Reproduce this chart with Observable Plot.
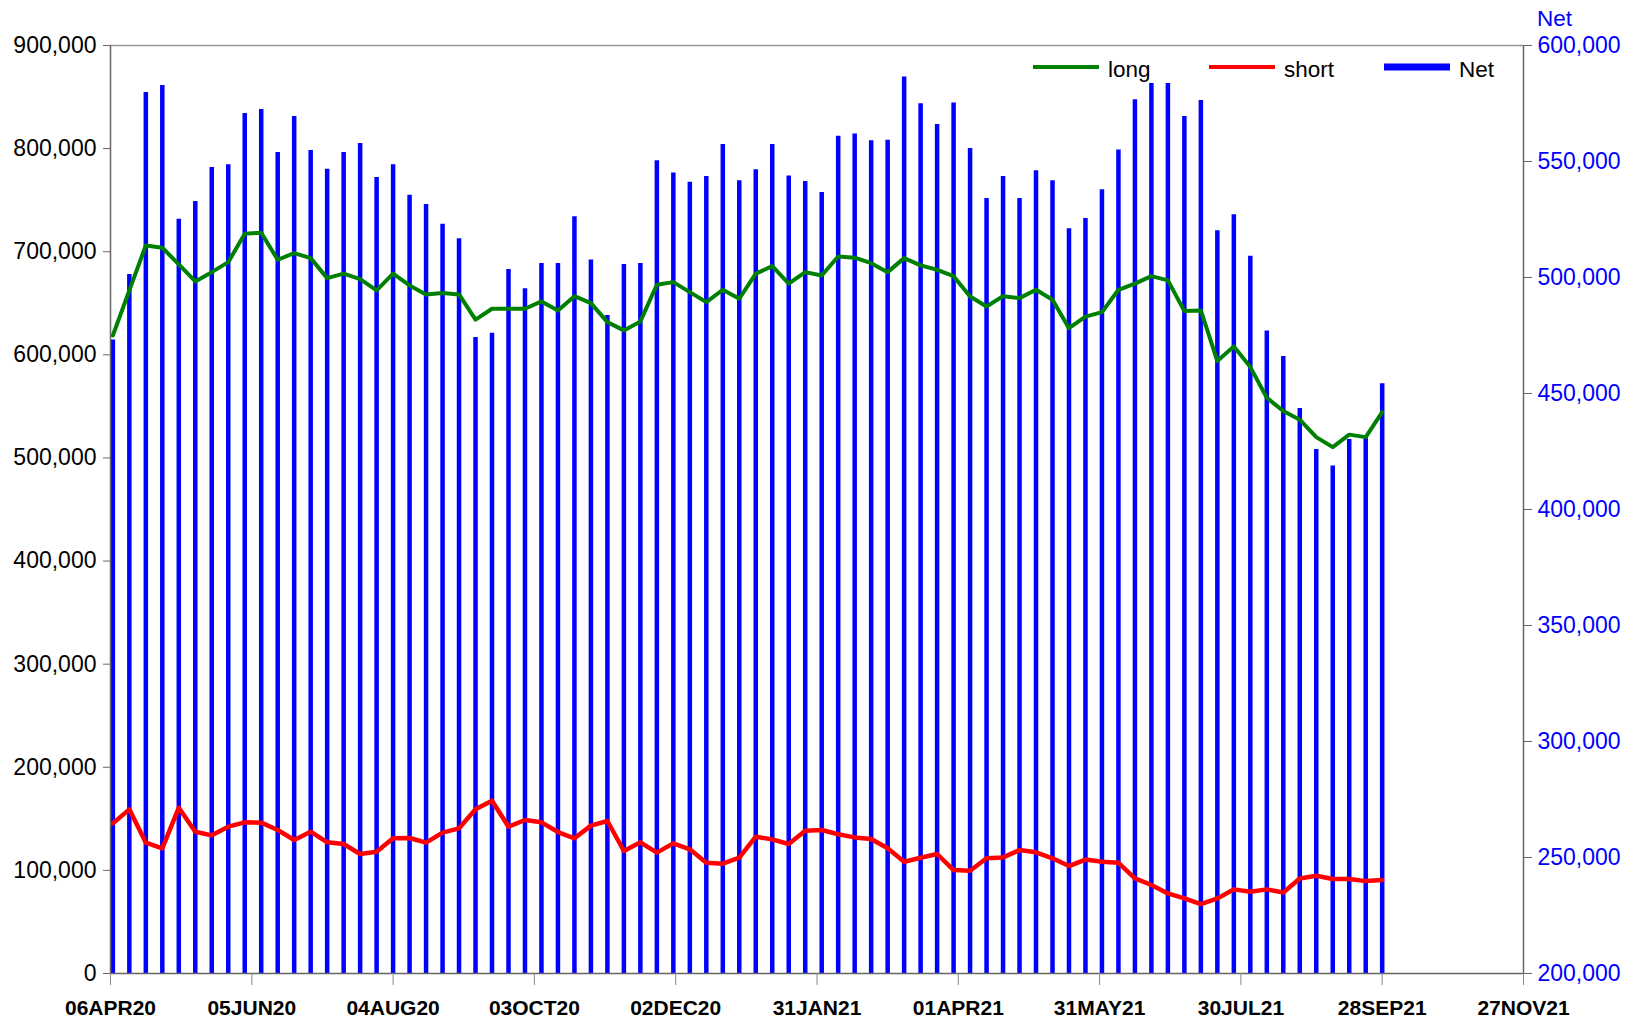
<!DOCTYPE html>
<html><head><meta charset="utf-8">
<script src="https://cdn.jsdelivr.net/npm/d3@7"></script>
<script src="https://cdn.jsdelivr.net/npm/@observablehq/plot@0.6"></script>
<style>
html,body{margin:0;padding:0;background:#fff;}
#wrap{position:relative;width:1641px;height:1026px;font-family:Arial,"Liberation Sans",sans-serif;}
#wrap svg.overlay{position:absolute;left:0;top:0;pointer-events:none;}
g[aria-label="x-axis tick label"] text{font-weight:bold;}
</style></head><body><div id="wrap"></div>
<script>
const dates = ["2020-04-07","2020-04-14","2020-04-21","2020-04-28","2020-05-05","2020-05-12","2020-05-19","2020-05-26","2020-06-02","2020-06-09","2020-06-16","2020-06-23","2020-06-30","2020-07-07","2020-07-14","2020-07-21","2020-07-28","2020-08-04","2020-08-11","2020-08-18","2020-08-25","2020-09-01","2020-09-08","2020-09-15","2020-09-22","2020-09-29","2020-10-06","2020-10-13","2020-10-20","2020-10-27","2020-11-03","2020-11-10","2020-11-17","2020-11-24","2020-12-01","2020-12-08","2020-12-15","2020-12-22","2020-12-29","2021-01-05","2021-01-12","2021-01-19","2021-01-26","2021-02-02","2021-02-09","2021-02-16","2021-02-23","2021-03-02","2021-03-09","2021-03-16","2021-03-23","2021-03-30","2021-04-06","2021-04-13","2021-04-20","2021-04-27","2021-05-04","2021-05-11","2021-05-18","2021-05-25","2021-06-01","2021-06-08","2021-06-15","2021-06-22","2021-06-29","2021-07-06","2021-07-13","2021-07-20","2021-07-27","2021-08-03","2021-08-10","2021-08-17","2021-08-24","2021-08-31","2021-09-07","2021-09-14","2021-09-21","2021-09-28"];
const longPos = [618800,662500,706100,703900,687700,671200,680200,689900,717400,718400,692200,698600,693800,674400,678700,673400,662500,678700,667300,658600,659900,658600,634100,644700,644700,644700,651800,643100,656900,650200,631700,623700,632400,668000,670500,660800,651100,663100,654400,678700,686000,669000,680200,677000,695400,694200,688900,680200,693800,686700,682500,676300,656600,646900,656900,655000,663100,653500,625900,637000,641400,663100,669000,676300,672200,642400,643100,594000,608200,588100,558400,545500,537100,520200,510500,522600,520200,544500];
const shortPos = [145600,159200,126900,121400,160800,137500,134000,142400,146600,146300,139200,129500,137500,127200,125600,115900,118100,131100,131400,126900,136600,140800,159200,167600,142400,148900,146600,137200,131100,143400,147900,118800,127200,117200,126200,120400,107400,106500,112300,132700,130100,125600,138500,139200,135000,132000,130400,121400,108400,112300,115900,100300,99700,111700,112600,119700,117500,111700,104200,110500,108400,107400,92200,85800,77700,72800,67300,72800,81600,79300,81600,78600,92200,94800,91600,91600,89600,90600];
const netPos = [473100,501300,579700,582800,525100,532800,547400,548600,570700,572400,553900,569400,554700,546700,553900,557800,543100,548600,535500,531500,522900,516700,474100,476000,503500,495100,506000,506000,526200,507500,483600,505600,506000,550300,545000,541100,543500,557300,541700,546400,557300,543800,541400,536600,560900,561800,558900,559200,586400,574900,566000,575200,555600,534100,543500,534100,546000,541700,521000,525400,537800,555000,576600,583600,583600,569400,576300,520100,527000,509200,476900,466000,443500,425900,418800,430200,431600,454200];
const leftTicks = [0,100000,200000,300000,400000,500000,600000,700000,800000,900000];
const rightTicks = [200000,250000,300000,350000,400000,450000,500000,550000,600000];
const xTickDates = ["2020-04-06","2020-06-05","2020-08-04","2020-10-03","2020-12-02","2021-01-31","2021-04-01","2021-05-31","2021-07-30","2021-09-28","2021-11-27"];
const seriesNames = ["long","short","Net"];
const seriesColors = ["#008000","#ff0000","#0000ff"];

const leftDomain = [0, 900000];
const rightDomain = [200000, 600000];
const toLeft = v => (v - rightDomain[0]) * (leftDomain[1] - leftDomain[0]) / (rightDomain[1] - rightDomain[0]);
const fromLeft = v => Math.round(v * (rightDomain[1] - rightDomain[0]) / (leftDomain[1] - leftDomain[0]) + rightDomain[0]);

const parse = s => new Date(s + "T00:00:00Z");
const data = dates.map((d, i) => ({date: parse(d), long: longPos[i], short: shortPos[i], net: netPos[i]}));
const xTicks = xTickDates.map(parse);
const xDomain = [xTicks[0], xTicks[xTicks.length - 1]];
const fmt = d3.format(",");
const xfmt = d => d3.utcFormat("%d%b%y")(d).toUpperCase();

const chart = Plot.plot({
  width: 1641, height: 1026,
  marginLeft: 110, marginRight: 118, marginTop: 45, marginBottom: 53,
  style: {fontFamily: 'Arial, "Liberation Sans", sans-serif', fontSize: "23px", background: "white", color: "black", overflow: "visible"},
  x: {type: "utc", domain: xDomain},
  y: {domain: leftDomain},
  marks: [
    Plot.ruleX(data, {x: "date", y1: 0, y2: d => toLeft(d.net), stroke: seriesColors[2], strokeWidth: 4.5}),
    Plot.line(data, {x: "date", y: "long", stroke: seriesColors[0], strokeWidth: 4}),
    Plot.line(data, {x: "date", y: "short", stroke: seriesColors[1], strokeWidth: 4.5}),
    Plot.ruleY([leftDomain[1]], {stroke: "#999", strokeWidth: 1.5}),
    Plot.ruleY([leftDomain[0]], {stroke: "#666", strokeWidth: 1.5}),
    Plot.ruleX(xDomain, {stroke: "#666", strokeWidth: 1.5}),
    Plot.axisY(leftTicks, {anchor: "left", tickFormat: fmt, tickSize: 7, tickPadding: 7, stroke: "#666", fill: "black", fontSize: 23, label: null}),
    Plot.axisY(rightTicks.map(toLeft), {anchor: "right", tickFormat: v => fmt(fromLeft(v)), tickSize: 8, tickPadding: 6, stroke: "#666", fill: "#0000ff", fontSize: 23, label: null}),
    Plot.axisX(xTicks, {anchor: "bottom", tickFormat: xfmt, tickSize: 12, tickPadding: 15, stroke: "#888", fill: "black", fontSize: 21, label: null})
  ]
});

const wrap = document.getElementById("wrap");
wrap.appendChild(chart);

// legend + right axis title overlay
const ns = "http://www.w3.org/2000/svg";
const ov = document.createElementNS(ns, "svg");
ov.setAttribute("class", "overlay");
ov.setAttribute("width", 1641);
ov.setAttribute("height", 1026);
const legendX = [1033, 1209, 1384];
const swatchH = [4, 4, 7];
let html = "";
seriesNames.forEach((name, i) => {
  html += `<rect x="${legendX[i]}" y="${67 - swatchH[i] / 2}" width="66" height="${swatchH[i]}" fill="${seriesColors[i]}"/>`;
  html += `<text x="${legendX[i] + 75}" y="77" font-size="22.5" fill="black" font-family='Arial, "Liberation Sans", sans-serif'>${name}</text>`;
});
html += `<text x="1537" y="26" font-size="22.5" fill="#0000ff" font-family='Arial, "Liberation Sans", sans-serif'>Net</text>`;
ov.innerHTML = html;
wrap.appendChild(ov);
</script>
</body></html>
